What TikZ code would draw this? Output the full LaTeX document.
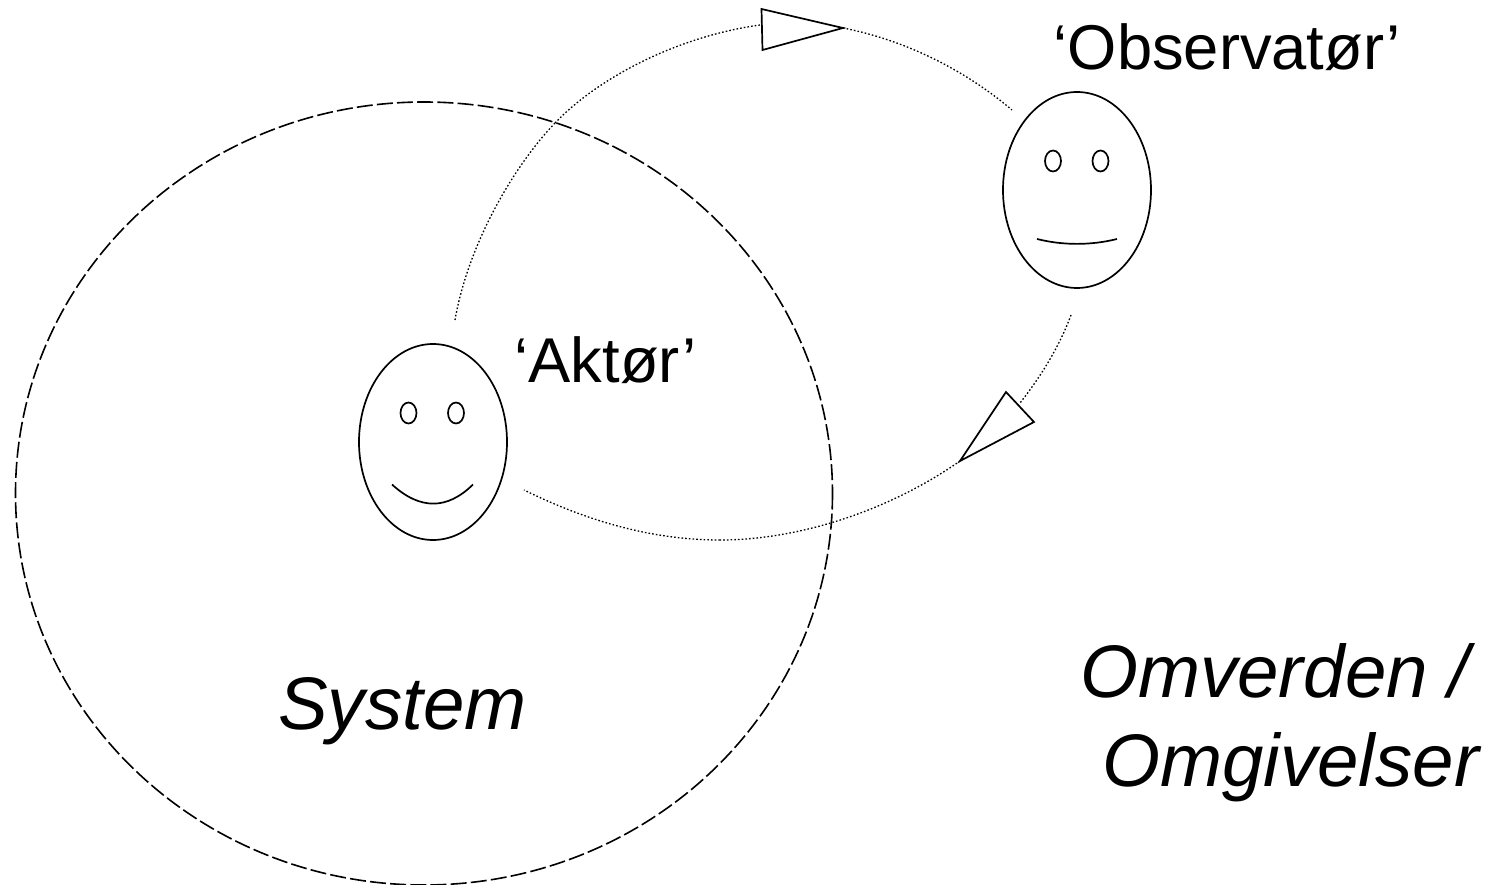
\documentclass[tikz,border=0pt]{standalone}
\usepackage{fontspec}
\setmainfont{Liberation Sans}
\begin{document}
\begin{tikzpicture}[x=1pt,y=-1pt,
  lbl/.style={anchor=base west,inner sep=0pt,font=\fontsize{63.3}{63.3}\selectfont},
  big/.style={anchor=base west,inner sep=0pt,font=\fontsize{74.5}{74.5}\selectfont\itshape},
  facebody/.style={draw,line width=1.7pt},
  orbit/.style={line width=1.3pt,dash pattern=on 1.6pt off 2.1pt},
  tip/.style={draw,line width=1.7pt,line join=miter,fill=white}]
\useasboundingbox (0,0) rectangle (1492,885);
\fill[white] (0,0) rectangle (1492,885);
% system boundary
\draw[line width=1.6pt,dash pattern=on 16pt off 4.2pt] (424,493.5) ellipse [x radius=408.5,y radius=391.5];
% anchors of the orbit
\coordinate (a1) at (455,320);
\coordinate (up) at (555,123);
\coordinate (t1a) at (761.5,9);
\coordinate (t1b) at (843,28);
\coordinate (t1c) at (762.5,50);
\coordinate (t1in) at (760,25);
\coordinate (o1) at (1012,110);
\coordinate (o2) at (1071,315);
\coordinate (t2a) at (1006,392);
\coordinate (t2b) at (1034,422);
\coordinate (t2c) at (960,461);
\coordinate (t2in) at (1020,403);
\coordinate (low) at (720,540);
\coordinate (a2) at (524,490);
\draw[orbit] (a1) .. controls (468,245) and (513,167) .. (up);
\draw[orbit] (up) .. controls (600,76) and (680,36) .. (t1in);
\draw[orbit] (t1b) .. controls (905,40) and (965,70) .. (o1);
\draw[orbit] (o2) .. controls (1060,345) and (1042,375) .. (t2in);
\draw[orbit] (t2c) .. controls (890,510) and (800,540) .. (low);
\draw[orbit] (low) .. controls (650,540) and (585,520) .. (a2);
\draw[tip] (t1a) -- (t1b) -- (t1c) -- cycle;
\draw[tip] (t2a) -- (t2b) -- (t2c) -- cycle;
% Aktor face
\draw[facebody] (433,442) ellipse [x radius=74,y radius=98];
\draw[facebody] (408.5,413) ellipse [x radius=8,y radius=10.5];
\draw[facebody] (456,413) ellipse [x radius=8,y radius=10.5];
\draw[facebody] (392,484.5) .. controls (420,510) and (447,510) .. (473,484.5);
% Observator face
\draw[facebody] (1077,190) ellipse [x radius=74,y radius=98];
\draw[facebody] (1053,161) ellipse [x radius=8,y radius=10.5];
\draw[facebody] (1100.5,161) ellipse [x radius=8,y radius=10.5];
\draw[facebody] (1037,239) .. controls (1063,245.5) and (1091,245.5) .. (1117,239);
% labels
\node[lbl] (aktor) at (514.5,382) {‘Aktør’};
\node[lbl] (obs) at (1053.5,70) {‘Observatør’};
\node[big] (sys) at (278,729) {System};
\node[big] (omv) at (1080,697) {Omverden /};
\node[big] (omg) at (1102,786.5) {Omgivelser};
\end{tikzpicture}
\end{document}
